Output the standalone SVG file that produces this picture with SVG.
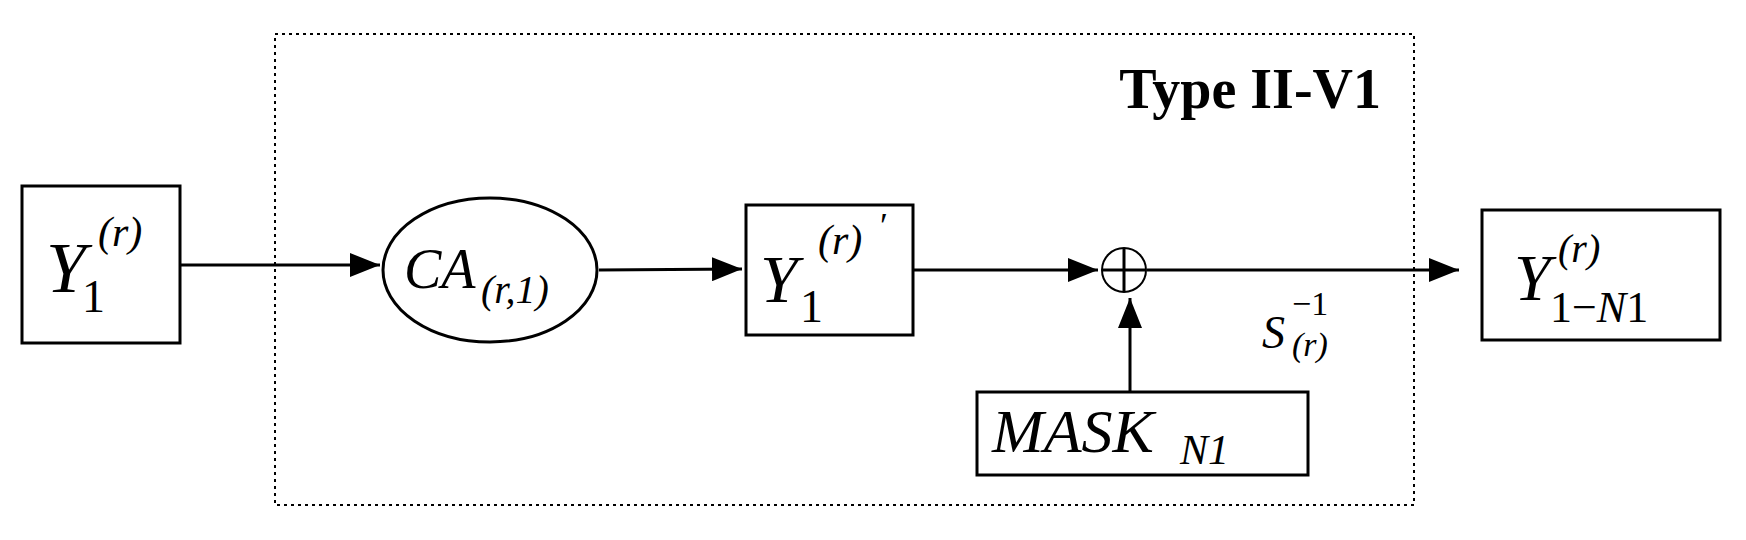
<svg xmlns="http://www.w3.org/2000/svg" width="1746" height="540" viewBox="0 0 1746 540">
<style>
.b{fill:#fff;stroke:#000;stroke-width:3}
.m{font-family:"Liberation Serif",serif;font-style:italic;fill:#000}
.n{font-family:"Liberation Serif",serif;fill:#000}
.c{stroke:#000;stroke-width:3;fill:none}
</style>
<defs><marker id="a" markerWidth="10" markerHeight="8" refX="10" refY="4" orient="auto" markerUnits="strokeWidth"><path d="M0,0L10,4L0,8z" fill="#000"/></marker></defs>
<rect width="1746" height="540" fill="#fff"/>
<g id="frame"><rect x="275" y="34" width="1139" height="471" fill="none" stroke="#000" stroke-width="2" stroke-dasharray="3,4"/>
<text x="1381" y="108" text-anchor="end" class="n" font-weight="bold" font-size="56">Type II-V1</text></g>
<g id="connectors">
<line class="c" x1="180" y1="265" x2="380" y2="265" marker-end="url(#a)"/>
<line class="c" x1="599" y1="270" x2="742" y2="269" marker-end="url(#a)"/>
<line class="c" x1="913" y1="270" x2="1098" y2="270" marker-end="url(#a)"/>
<line class="c" x1="1147" y1="270" x2="1459" y2="270" marker-end="url(#a)"/>
<line class="c" x1="1130" y1="391" x2="1130" y2="298" marker-end="url(#a)"/>
</g>
<g id="n1"><rect class="b" x="22" y="186" width="158" height="157"/>
<text class="m" x="46" y="292" font-size="72">Y</text><text class="n" x="82" y="312" font-size="46">1</text><text class="m" x="98" y="246" font-size="42">(r)</text></g>
<g id="ca"><ellipse class="b" cx="490" cy="270" rx="107" ry="72" stroke-width="2"/>
<text class="m" x="404" y="288" font-size="56">CA</text><text class="m" x="481" y="303" font-size="40">(r,1)</text></g>
<g id="n2"><rect class="b" x="746" y="205" width="167" height="130"/>
<text class="m" x="760" y="302" font-size="68">Y</text><text class="n" x="800" y="322" font-size="46">1</text><text class="m" x="818" y="254" font-size="42">(r)</text><text class="n" x="880" y="238" font-size="36">′</text></g>
<g id="xor"><circle cx="1124" cy="270" r="22" fill="#fff" stroke="#000" stroke-width="2"/><line x1="1102" y1="270" x2="1146" y2="270" stroke="#000" stroke-width="3"/><line x1="1124" y1="248" x2="1124" y2="292" stroke="#000" stroke-width="3"/></g>
<g id="s"><text class="m" x="1262" y="348" font-size="46">S</text><text class="n" x="1292" y="315" font-size="34">−1</text><text class="m" x="1292" y="356" font-size="34">(r)</text></g>
<g id="n3"><rect class="b" x="1482" y="210" width="238" height="130"/>
<text class="m" x="1514" y="300" font-size="66">Y</text><text class="m" x="1558" y="262" font-size="40">(r)</text><text class="n" x="1550" y="322" font-size="44">1−<tspan class="m">N</tspan>1</text></g>
<g id="mask"><rect class="b" x="977" y="392" width="331" height="83"/>
<text class="m" x="992" y="452" font-size="62">MASK</text><text class="m" x="1180" y="464" font-size="42">N1</text></g>
</svg>
